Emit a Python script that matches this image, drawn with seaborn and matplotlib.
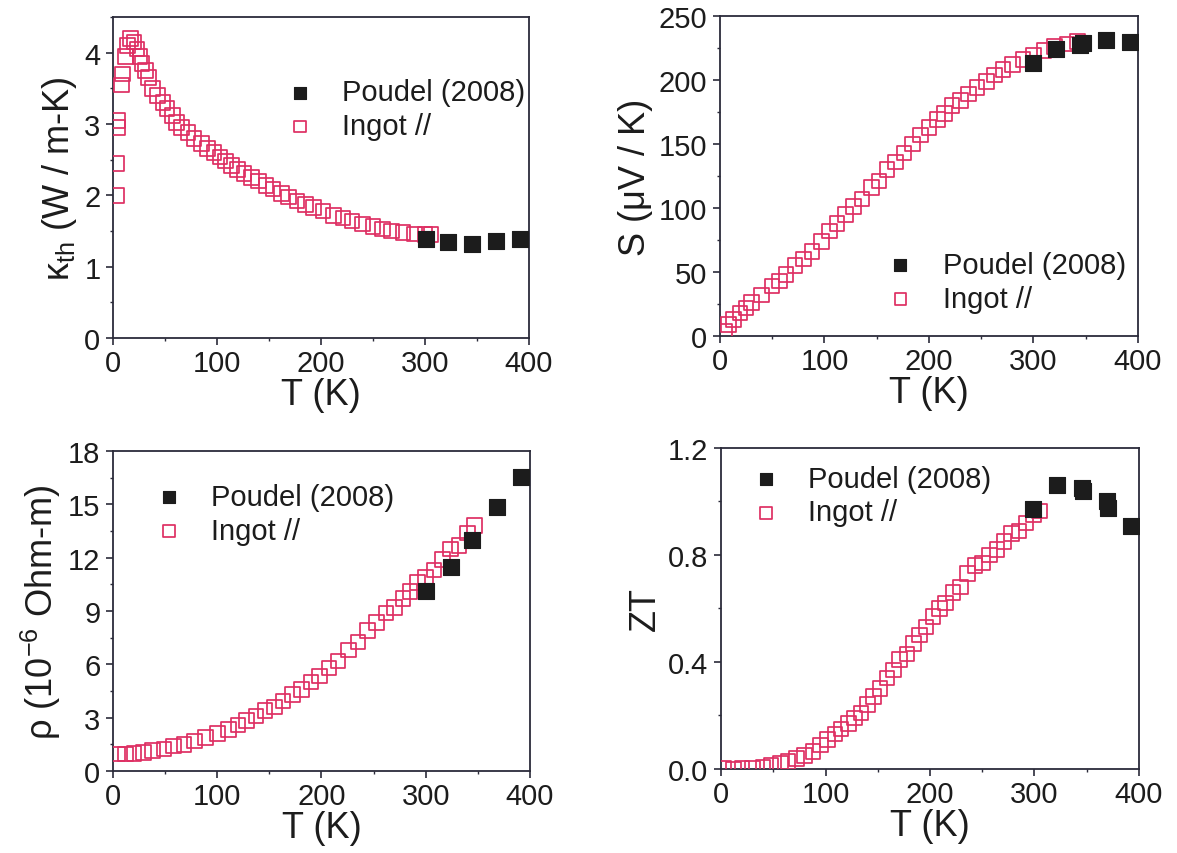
import matplotlib
matplotlib.use("Agg")
import matplotlib.pyplot as plt
from matplotlib.ticker import MultipleLocator
import pandas as pd
import seaborn as sns

# ---------------- data ----------------
# Reference data (Poudel 2008)
poudel_T_kappa = [301, 322, 345, 368, 391]
poudel_kappa = [1.39, 1.34, 1.32, 1.36, 1.39]

poudel_T_S = [300, 322, 345, 347, 369, 392]
poudel_S = [213, 224, 227, 229, 231, 230]

poudel_T_rho = [300, 324, 344, 368, 391]
poudel_rho = [10.1, 11.5, 13.0, 14.85, 16.55]

poudel_T_zt = [299, 322, 345, 346, 369, 370, 392]
poudel_zt = [0.97, 1.06, 1.05, 1.04, 1.0, 0.975, 0.91]

# Ingot, measured parallel to growth direction
ingot_T_kappa = [4, 4, 5, 5, 8, 9, 12, 14, 17, 20, 23, 26, 28, 31, 34, 38, 43, 48, 52,
                 57, 61, 66, 72, 78, 85, 91, 97, 103, 108, 114, 120, 126, 133, 140,
                 147, 154, 162, 169, 177, 185, 193, 202, 212, 221, 230, 240, 250,
                 259, 268, 279, 290, 300, 306]
ingot_kappa = [2.0, 2.45, 2.95, 3.05, 3.55, 3.7, 3.95, 4.1, 4.2, 4.15, 4.05, 3.95, 3.85,
               3.75, 3.65, 3.5, 3.4, 3.3, 3.22, 3.12, 3.02, 2.95, 2.88, 2.8, 2.73,
               2.66, 2.6, 2.54, 2.48, 2.42, 2.36, 2.31, 2.25, 2.2, 2.14, 2.09, 2.03,
               1.98, 1.92, 1.87, 1.83, 1.78, 1.72, 1.68, 1.64, 1.6, 1.56, 1.53, 1.5,
               1.48, 1.46, 1.45, 1.45]

ingot_T_S = [5, 8, 13, 19, 25, 30, 40, 50, 57, 63, 72, 80, 88, 97, 105, 112, 120, 128,
             136, 145, 152, 160, 168, 176, 184, 192, 200, 208, 215, 222, 230, 238,
             246, 255, 263, 271, 280, 290, 300, 310, 320, 332, 342]
ingot_S = [4, 9, 13, 18, 22, 26, 32, 39, 43, 48, 55, 60, 66, 74, 82, 88, 95, 101, 107,
           116, 121, 130, 136, 143, 150, 157, 163, 169, 174, 180, 184, 189, 194, 199,
           204, 208, 212, 216, 219, 223, 226, 228, 230]

ingot_T_rho = [5, 12, 20, 29, 38, 49, 58, 68, 78, 89, 100, 111, 120, 128, 137, 146, 155,
               163, 172, 181, 190, 198, 207, 216, 226, 235, 244, 253, 262, 270, 278,
               285, 292, 300, 308, 316, 324, 332, 340, 347]
ingot_rho = [0.95, 0.95, 1.0, 1.05, 1.15, 1.25, 1.4, 1.5, 1.7, 1.9, 2.1, 2.35, 2.6, 2.85,
             3.1, 3.4, 3.6, 3.95, 4.3, 4.6, 5.0, 5.35, 5.8, 6.2, 6.8, 7.25, 7.9, 8.35,
             8.9, 9.2, 9.7, 10.1, 10.6, 10.9, 11.3, 11.9, 12.5, 12.7, 13.4, 13.8]

ingot_T_zt = [3, 12, 20, 30, 40, 48, 57, 64, 72, 80, 88, 95, 102, 109, 115, 122, 128,
              134, 140, 146, 152, 159, 165, 171, 178, 184, 190, 196, 203, 209, 215,
              222, 229, 236, 243, 250, 257, 264, 271, 278, 285, 292, 299, 305]
ingot_zt = [0.002, 0.0, 0.003, 0.004, 0.008, 0.012, 0.02, 0.028, 0.04, 0.05, 0.065,
            0.09, 0.11, 0.13, 0.15, 0.17, 0.19, 0.21, 0.24, 0.27, 0.3, 0.34, 0.37,
            0.41, 0.43, 0.47, 0.5, 0.53, 0.57, 0.6, 0.62, 0.66, 0.68, 0.73, 0.76,
            0.77, 0.8, 0.82, 0.85, 0.88, 0.89, 0.92, 0.95, 0.965]

label_ref = "Poudel (2008)"
label_ingot = "Ingot //"

# ---------------- style ----------------
sns.set_theme(style="ticks")
plt.rcParams["font.family"] = ["Liberation Sans", "DejaVu Sans"]
plt.rcParams["mathtext.fontset"] = "custom"
plt.rcParams["mathtext.rm"] = "Liberation Sans"
plt.rcParams["mathtext.it"] = "Liberation Sans:italic"
plt.rcParams["axes.unicode_minus"] = False

INK = "#1c1c1c"
SPINE = "#2b2b3a"
PINK = "#de2f63"
TICK_FS = 21
LABEL_FS = 26
LEG_FS = 21
MS_INGOT = 110
MS_REF = 125

fig = plt.figure(figsize=(11.77, 8.54), dpi=100)

panels = [
    dict(rect=[0.0960, 0.6030, 0.3534, 0.3759],
         ingot=(ingot_T_kappa, ingot_kappa), ref=(poudel_T_kappa, poudel_kappa),
         ylim=(0, 4.5), major=1, minor=0.5, fmt="{:.0f}",
         ylabel=r"κ$_{\mathrm{th}}$ (W / m-K)", leg=(0.421, 0.713)),
    dict(rect=[0.6117, 0.6054, 0.3551, 0.3747],
         ingot=(ingot_T_S, ingot_S), ref=(poudel_T_S, poudel_S),
         ylim=(0, 250), major=50, minor=25, fmt="{:.0f}",
         ylabel="S (μV / K)", leg=(0.404, 0.170)),
    dict(rect=[0.0960, 0.0960, 0.3543, 0.3747],
         ingot=(ingot_T_rho, ingot_rho), ref=(poudel_T_rho, poudel_rho),
         ylim=(0, 18), major=3, minor=1.5, fmt="{:.0f}",
         ylabel=r"ρ (10$^{\mathrm{-6}}$ Ohm-m)", leg=(0.106, 0.803)),
    dict(rect=[0.6126, 0.0984, 0.3551, 0.3759],
         ingot=(ingot_T_zt, ingot_zt), ref=(poudel_T_zt, poudel_zt),
         ylim=(0, 1.2), major=0.4, minor=0.2, fmt="{:.1f}",
         ylabel="ZT", leg=(0.079, 0.852)),
]

for p in panels:
    ax = fig.add_axes(p["rect"])
    ingot_df = pd.DataFrame({"T": p["ingot"][0], "v": p["ingot"][1]})
    ref_df = pd.DataFrame({"T": p["ref"][0], "v": p["ref"][1]})

    sns.scatterplot(data=ingot_df, x="T", y="v", ax=ax, marker="s", s=MS_INGOT,
                    facecolor="none", edgecolor=PINK, linewidth=1.25,
                    label=label_ingot, zorder=3)
    sns.scatterplot(data=ref_df, x="T", y="v", ax=ax, marker="s", s=MS_REF,
                    color=INK, edgecolor=INK, linewidth=0.8,
                    label=label_ref, zorder=4)

    ax.set_xlim(0, 400)
    ax.set_ylim(*p["ylim"])
    ax.xaxis.set_major_locator(MultipleLocator(100))
    ax.xaxis.set_minor_locator(MultipleLocator(50))
    ax.yaxis.set_major_locator(MultipleLocator(p["major"]))
    ax.yaxis.set_minor_locator(MultipleLocator(p["minor"]))
    fmt = p["fmt"]
    ax.yaxis.set_major_formatter(plt.FuncFormatter(lambda v, _, f=fmt: f.format(v)))

    ax.tick_params(which="both", direction="out", top=False, right=False,
                   color=SPINE, labelcolor=INK, labelsize=TICK_FS)
    ax.tick_params(which="major", length=5, width=1.2)
    ax.tick_params(which="minor", length=2.5, width=1.0)
    ax.tick_params(axis="x", which="major", pad=3)
    ax.tick_params(axis="y", which="major", pad=4)

    for side in ["left", "right", "top", "bottom"]:
        ax.spines[side].set_visible(True)
        ax.spines[side].set_color(SPINE)
        ax.spines[side].set_linewidth(1.3)

    ax.set_xlabel("T (K)", fontsize=LABEL_FS, color=INK, labelpad=0)
    ax.set_ylabel(p["ylabel"], fontsize=LABEL_FS, color=INK, labelpad=4)

    handles, labels = ax.get_legend_handles_labels()
    order = [labels.index(label_ref), labels.index(label_ingot)]
    ax.legend([handles[i] for i in order], [labels[i] for i in order],
              loc="center left", bbox_to_anchor=p["leg"], frameon=False,
              fontsize=LEG_FS, handlelength=0.8, handletextpad=1.05,
              borderpad=0, borderaxespad=0, labelspacing=0.2,
              markerscale=0.8, labelcolor=INK)

fig.savefig("out.png", dpi=100)
